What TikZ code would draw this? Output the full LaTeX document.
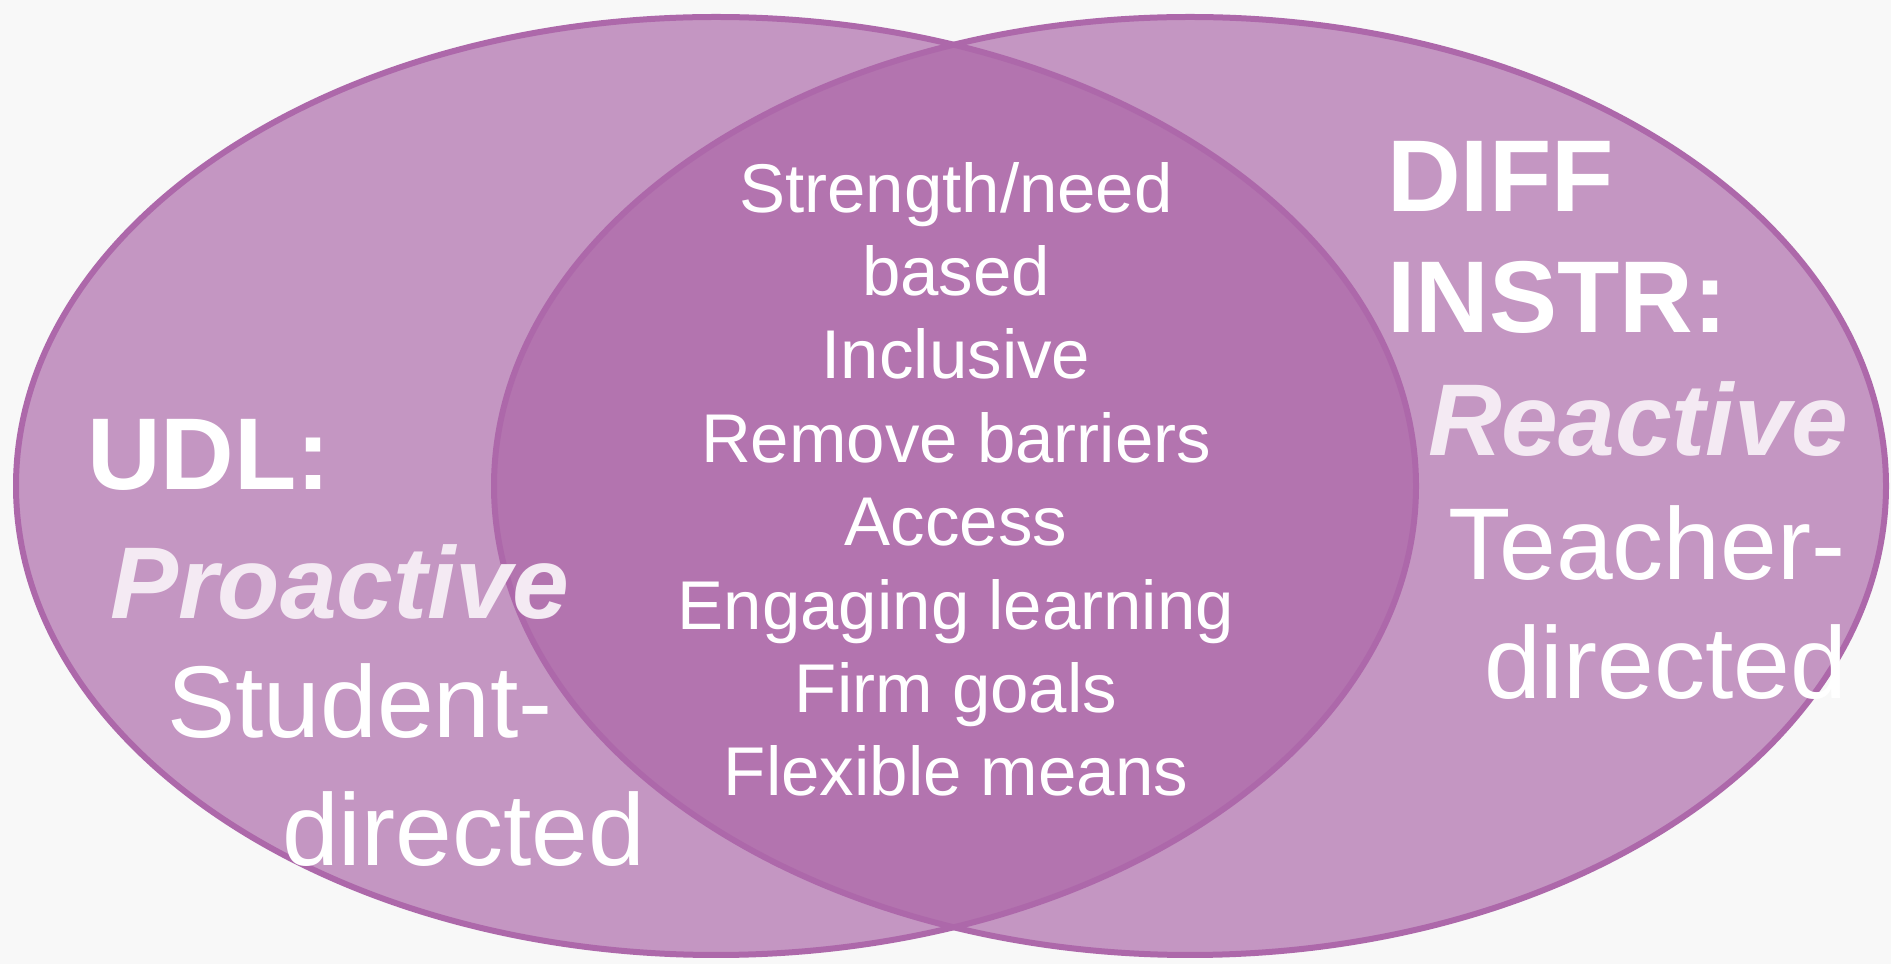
\documentclass[tikz,border=0pt]{standalone}
\usepackage{fontspec}
\setmainfont{Liberation Sans}
\definecolor{bgc}{HTML}{F8F8F8}
\definecolor{lightfill}{HTML}{C496C2}
\definecolor{overlapfill}{HTML}{B374AF}
\definecolor{edgec}{HTML}{AD68AA}
\definecolor{itc}{HTML}{F4EAF3}
\tikzset{
  vennedge/.style={draw=edgec, line width=6pt},
  midtxt/.style={text=white, inner sep=0pt, anchor=base, font=\fontsize{69}{83}\selectfont},
  sidetxt/.style={text=white, inner sep=0pt, anchor=base west, font=\fontsize{102}{123}\selectfont},
  sidebold/.style={sidetxt, font=\fontsize{102}{123}\selectfont\bfseries},
  sideital/.style={sidetxt, text=itc, font=\fontsize{102}{123}\selectfont\bfseries\itshape}
}
\begin{document}
\begin{tikzpicture}[x=1pt,y=1pt]
\useasboundingbox (0,0) rectangle (1891,964);
\fill[bgc] (0,0) rectangle (1891,964);
% circles
\fill[lightfill] (716,478) ellipse [x radius=700, y radius=469];
\fill[lightfill] (1190,478) ellipse [x radius=696, y radius=469];
\begin{scope}
  \clip (716,478) ellipse [x radius=700, y radius=469];
  \fill[overlapfill] (1190,478) ellipse [x radius=696, y radius=469];
\end{scope}
\draw[vennedge] (716,478) ellipse [x radius=700, y radius=469];
\draw[vennedge] (1190,478) ellipse [x radius=696, y radius=469];
% middle
\node[midtxt] (c1) at (956,751) {Strength/need};
\node[midtxt] (c2) at (956,668) {based};
\node[midtxt] (c3) at (956,585) {Inclusive};
\node[midtxt] (c4) at (956,501) {Remove barriers};
\node[midtxt] (c5) at (956,418) {Access};
\node[midtxt] (c6) at (956,334) {Engaging learning};
\node[midtxt] (c7) at (956,251) {Firm goals};
\node[midtxt] (c8) at (956,168) {Flexible means};
% left
\node[sidebold] (l1) at (87,474) {UDL:};
\node[sideital] (l2) at (110,345) {Proactive};
\node[sidetxt] (l3) at (167,226) {Student-};
\node[sidetxt] (l4) at (282,98) {directed};
% right
\node[sidebold] (r1) at (1387,752) {DIFF};
\node[sidebold] (r2) at (1387,631) {INSTR:};
\node[sideital] (r3) at (1428,508) {Reactive};
\node[sidetxt] (r4) at (1448,384) {Teacher-};
\node[sidetxt] (r5) at (1484,265) {directed};
\end{tikzpicture}
\end{document}
